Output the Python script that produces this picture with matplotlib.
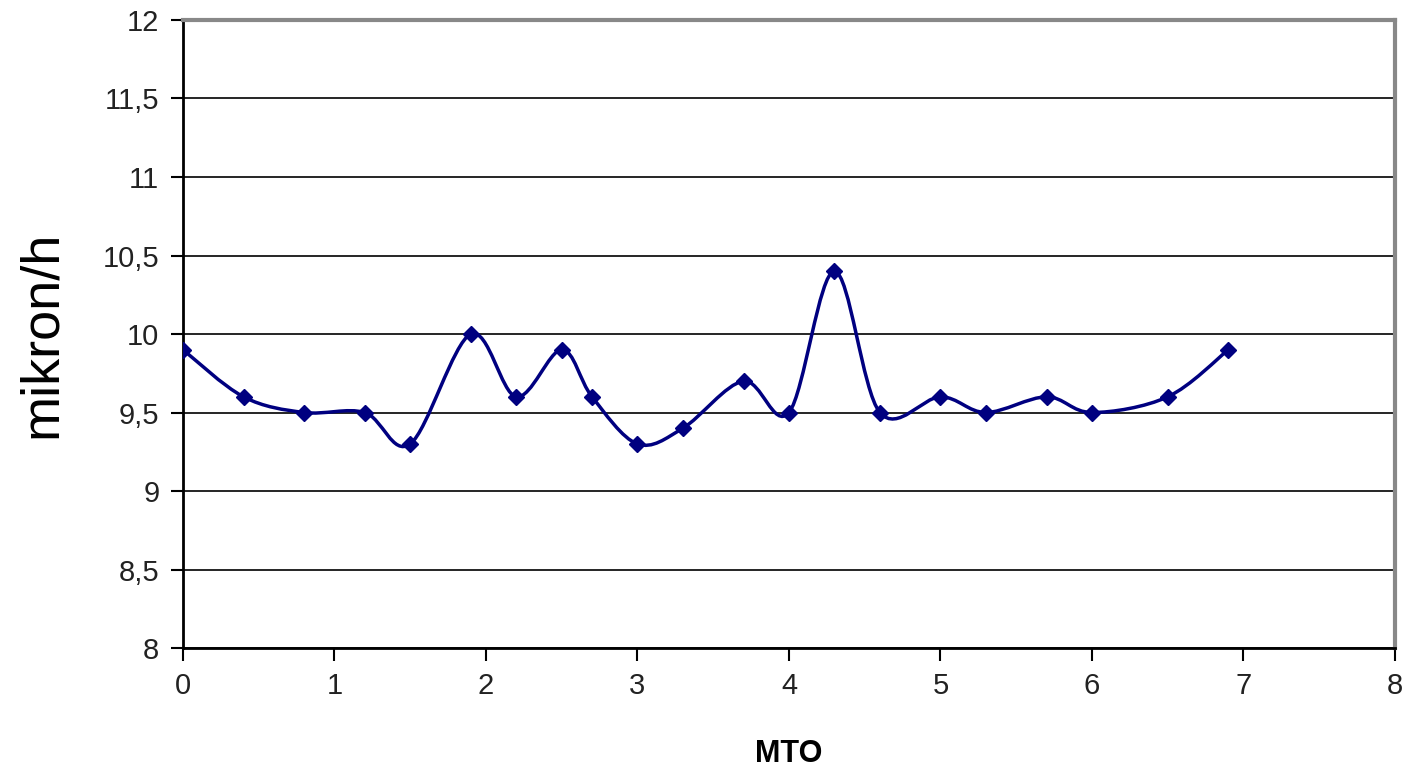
import matplotlib
matplotlib.use('Agg')
from matplotlib import pyplot as plt
from matplotlib.path import Path
from matplotlib.patches import PathPatch

plt.rcParams['font.family'] = ['Liberation Sans', 'DejaVu Sans']

mto = [0, 0.4, 0.8, 1.2, 1.5, 1.9, 2.2, 2.5, 2.7, 3.0, 3.3, 3.7, 4.0, 4.3, 4.6, 5.0, 5.3, 5.7, 6.0, 6.5, 6.9]
rate = [9.9, 9.6, 9.5, 9.5, 9.3, 10.0, 9.6, 9.9, 9.6, 9.3, 9.4, 9.7, 9.5, 10.4, 9.5, 9.6, 9.5, 9.6, 9.5, 9.6, 9.9]
yticks = [8, 8.5, 9, 9.5, 10, 10.5, 11, 11.5, 12]
ytick_labels = ['8', '8,5', '9', '9,5', '10', '10,5', '11', '11,5', '12']

fig = plt.figure(figsize=(14.02, 7.69), dpi=100)
ax = fig.add_axes([0.1305, 0.1573, 0.8645, 0.8167])

# smoothed line like Excel: Catmull-Rom turned into cubic bezier segments
verts = [(mto[0], rate[0])]
codes = [Path.MOVETO]
n = len(mto)
for i in range(n - 1):
    x0, y0 = (mto[i - 1], rate[i - 1]) if i > 0 else (mto[i], rate[i])
    x1, y1 = mto[i], rate[i]
    x2, y2 = mto[i + 1], rate[i + 1]
    x3, y3 = (mto[i + 2], rate[i + 2]) if i + 2 < n else (x2, y2)
    verts += [(x1 + (x2 - x0) / 6, y1 + (y2 - y0) / 6),
              (x2 - (x3 - x1) / 6, y2 - (y3 - y1) / 6),
              (x2, y2)]
    codes += [Path.CURVE4] * 3
ax.add_patch(PathPatch(Path(verts, codes), facecolor='none', edgecolor='#000080', lw=2.5, zorder=3))
ax.plot(mto, rate, linestyle='none', marker='D', color='#000080', markersize=8, zorder=4)

ax.set_xlim(0, 8)
ax.set_ylim(8, 12)
ax.set_xticks(range(9))
ax.set_yticks(yticks)
ax.set_yticklabels(ytick_labels)
ax.yaxis.grid(True, color='black', lw=1.2)
ax.set_axisbelow(True)
ax.tick_params(direction='out', length=9, width=1.5, labelsize=21, pad=8, labelcolor='#222222')

for s in ['left', 'bottom']:
    ax.spines[s].set_color('black')
    ax.spines[s].set_linewidth(2)
for s in ['top', 'right']:
    ax.spines[s].set_color('#888888')
    ax.spines[s].set_linewidth(3)

ax.set_xlabel('MTO', fontsize=22, fontweight='bold', labelpad=28)
ax.set_ylabel('mikron/h', fontsize=39, labelpad=26)

plt.savefig('out.png', dpi=100)
